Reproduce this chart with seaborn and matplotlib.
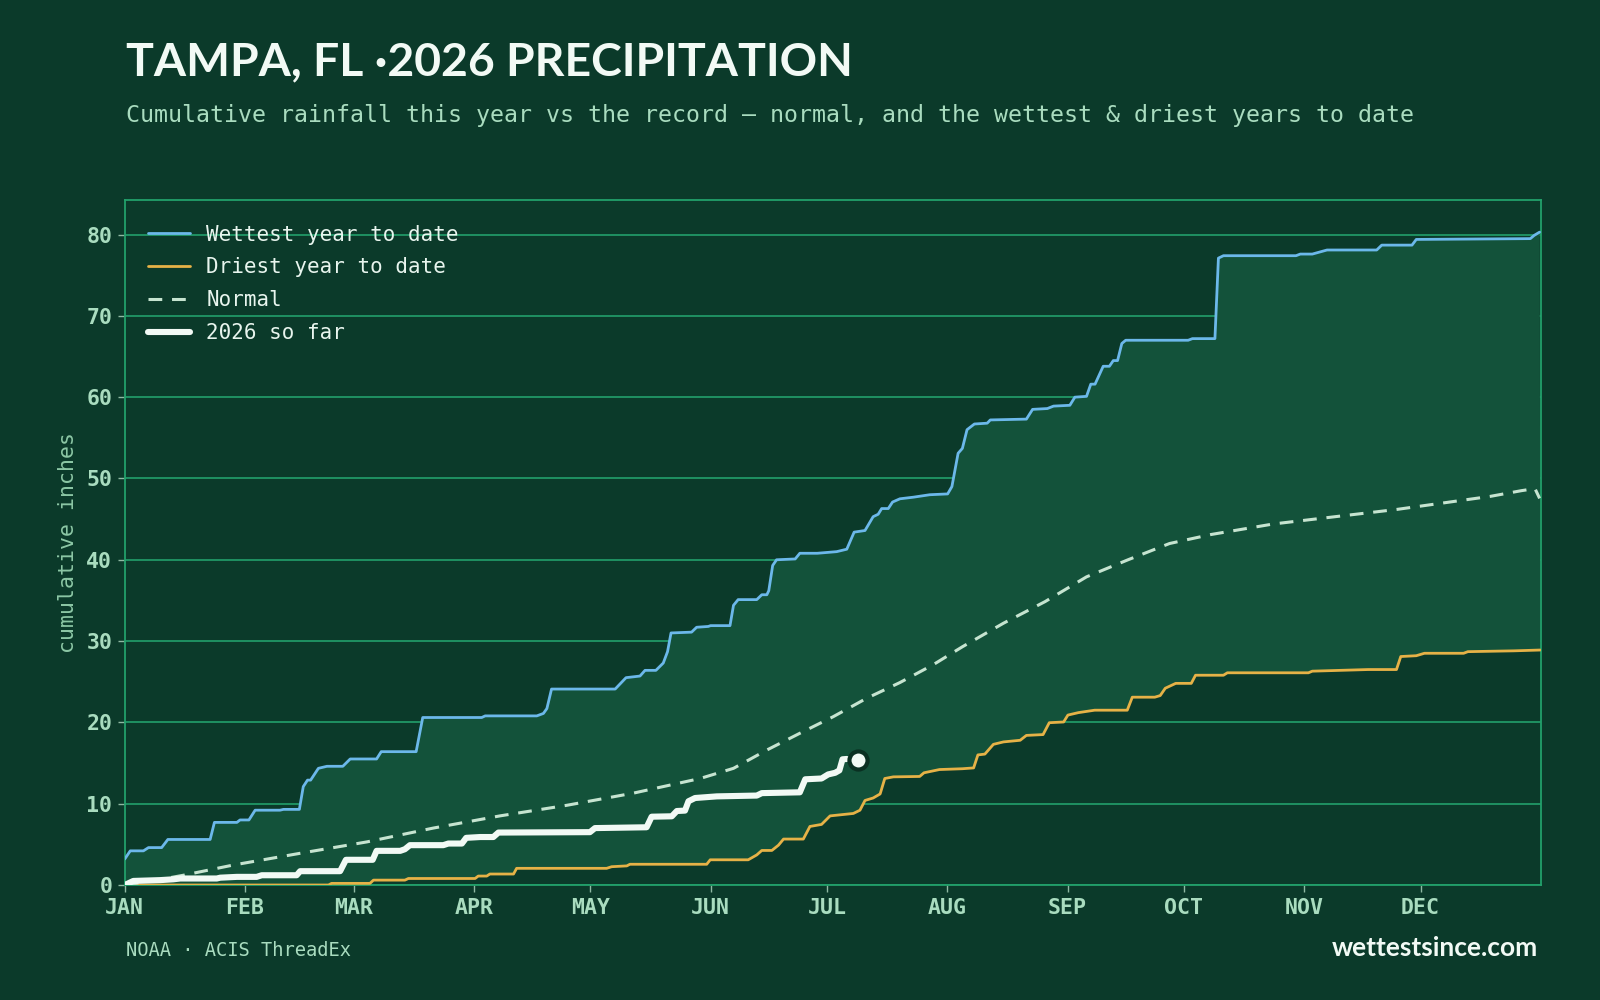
import numpy as np
import pandas as pd
import matplotlib
matplotlib.use("Agg")
import matplotlib.pyplot as plt
import seaborn as sns

# ---------------- data (day of year, cumulative inches) ----------------
month_labels = ["JAN", "FEB", "MAR", "APR", "MAY", "JUN", "JUL", "AUG", "SEP", "OCT", "NOV", "DEC"]
month_starts = [0, 31, 59, 90, 120, 151, 181, 212, 243, 273, 304, 334]
y_ticks = [0, 10, 20, 30, 40, 50, 60, 70, 80]

wet_day = [0, 1.4, 4.8, 6.1, 9.5, 11.1, 22, 23.1, 28.9, 29.7, 32, 33.6, 40, 40.9, 45, 46, 47.1, 47.9,
           49.9, 52.1, 56.2, 58.1, 64.9, 66.1, 75.1, 76.8, 92, 92.9, 106.2, 107.9, 108.8, 110, 126.4,
           129.2, 132.8, 134.1, 136.9, 138.8, 139.9, 140.8, 146.1, 147.4, 150.4, 151, 156, 156.9, 158.1,
           162.9, 164.2, 165.5, 166, 167, 168, 172.8, 174, 178.5, 183.5, 186.1, 188, 190.8, 192.9, 194.2,
           195.1, 196.8, 197.9, 199.8, 203.3, 207.5, 212.1, 213.2, 214.8, 215.9, 217.1, 219, 222.3, 223.1,
           232.4, 234, 237.8, 239.4, 243.6, 244.9, 247.9, 249, 250.1, 252.2, 253.8, 254.8, 255.9, 257, 258,
           274.1, 275.2, 281, 281.9, 283.2, 301.9, 303, 306.1, 309.9, 322.7, 324, 331.8, 332.9, 362.3,
           363.3, 364.7]
wet_in = [3.2, 4.2, 4.2, 4.6, 4.6, 5.6, 5.6, 7.7, 7.7, 8.0, 8.0, 9.2, 9.2, 9.3, 9.3, 12.1, 12.9, 12.9,
          14.35, 14.6, 14.6, 15.5, 15.5, 16.4, 16.4, 20.6, 20.6, 20.8, 20.8, 21.1, 21.7, 24.1, 24.1,
          25.5, 25.7, 26.4, 26.4, 27.3, 28.7, 31.0, 31.1, 31.7, 31.8, 31.9, 31.9, 34.4, 35.1,
          35.1, 35.7, 35.7, 36.2, 39.3, 40.0, 40.1, 40.8, 40.8, 41.0, 41.3, 43.4, 43.6, 45.3, 45.6,
          46.3, 46.3, 47.1, 47.5, 47.7, 48.0, 48.1, 49.0, 53.1, 53.7, 56.0, 56.7, 56.8, 57.2,
          57.3, 58.5, 58.6, 58.9, 59.0, 60.0, 60.1, 61.6, 61.6, 63.8, 63.8, 64.5, 64.5, 66.6, 67.0,
          67.0, 67.2, 67.2, 77.1, 77.4, 77.4, 77.6, 77.6, 78.1, 78.1, 78.7, 78.7, 79.4, 79.5,
          79.9, 80.3]

dry_day = [0, 52.5, 53.3, 63.2, 64.1, 72.2, 73.1, 90.3, 91.1, 93.3, 94.1, 100.2, 101, 124.2, 125.5,
           129.4, 130.2, 150, 150.9, 160.7, 162.9, 164.2, 166.8, 168.5, 169.8, 174.9, 176.6, 179.6,
           181.8, 187.8, 189.5, 190.8, 192.9, 194.7, 195.9, 198.1, 204.9, 206, 210, 215.9, 218.8, 219.9,
           221.7, 223.9, 226.5, 230.8, 232.4, 236.7, 238.3, 242, 243.1, 245.8, 250, 258.4, 259.7, 265.5,
           266.9, 268.2, 270.9, 274.9, 276, 283.2, 284.2, 305.1, 306.1, 320.5, 327.8, 328.9, 332.9, 335,
           345.1, 346.2, 358, 364.9]
dry_in = [0, 0, 0.2, 0.2, 0.6, 0.6, 0.8, 0.8, 1.1, 1.1, 1.35, 1.35, 2.05, 2.05, 2.25,
          2.35, 2.55, 2.55, 3.1, 3.1, 3.7, 4.25, 4.25, 4.9, 5.65, 5.65, 7.2, 7.45,
          8.5, 8.8, 9.2, 10.4, 10.7, 11.2, 13.1, 13.3, 13.35, 13.8, 14.2, 14.3, 14.4, 16.0,
          16.1, 17.3, 17.6, 17.8, 18.4, 18.5, 19.96, 20.05, 20.9, 21.2, 21.5, 21.5, 23.1, 23.1,
          23.3, 24.2, 24.8, 24.8, 25.8, 25.8, 26.1, 26.1, 26.3, 26.5, 26.5, 28.1, 28.2, 28.5,
          28.5, 28.7, 28.8, 28.9]

norm_day = [0, 8.2, 15.1, 28, 45.2, 62.4, 79.5, 96.7, 113.9, 131.1, 148.3, 156.9, 165.5, 174, 182.6,
            191.2, 199.8, 208.4, 215.9, 226.5, 237.2, 247.9, 258.6, 269.3, 279.9, 296, 312, 328, 340,
            352, 360, 363.5, 364.7]
norm_in = [0, 0.6, 1.2, 2.46, 3.9, 5.3, 7.0, 8.5, 9.8, 11.3, 13.1, 14.35, 16.6, 18.66, 20.7,
           22.96, 24.9, 27.1, 29.3, 32.2, 34.85, 37.9, 40.0, 42.0, 43.1, 44.4, 45.3, 46.2, 47.0,
           47.8, 48.5, 48.75, 47.55]

cur_day = [0, 2.2, 9.1, 12.5, 14.3, 23.7, 24.6, 28.9, 34, 35.3, 44.3, 45.2, 55.5, 57, 63.9, 64.9, 71,
           72.2, 73.5, 82.1, 83.4, 86.9, 88, 91.6, 95, 96.3, 119.9, 121.2, 134.5, 135.8, 141, 142.3,
           144.4, 145.3, 147, 152.6, 162.9, 164.2, 174, 175.4, 179.6, 181.3, 183.1, 184.2, 185, 186.1]
cur_in = [0, 0.5, 0.6, 0.7, 0.8, 0.8, 0.9, 1.0, 1.0, 1.2, 1.2, 1.7, 1.7, 3.1, 3.1, 4.2, 4.2,
          4.4, 4.9, 4.9, 5.1, 5.1, 5.8, 5.9, 5.9, 6.45, 6.5, 7.0, 7.1, 8.4, 8.45, 9.1,
          9.15, 10.3, 10.7, 10.9, 11.0, 11.3, 11.4, 13.0, 13.1, 13.6, 13.8, 14.1, 15.46, 15.5]

today_day = [188.9]
today_in = [15.4]

# ---------------- style ----------------
BG = "#0b3a2a"
FILL = "#13523a"
GRID = "#22a06b"
MINT = "#a9dcbf"
MINT2 = "#8cc7a5"
WHITE = "#f2faf5"
BLUE = "#6cb8ea"
ORANGE = "#e6b247"
NORMAL = "#c6e4d0"

sns.set_theme(style="dark")
plt.rcParams["font.family"] = ["DejaVu Sans Mono", "DejaVu Sans"]

fig = plt.figure(figsize=(16, 10), dpi=100, facecolor=BG)
ax = fig.add_axes([0.078, 0.115, 0.885, 0.685])
ax.set_facecolor(BG)

# band between wettest and driest
ax.fill(np.r_[wet_day, dry_day[::-1]], np.r_[wet_in, dry_in[::-1]], color=FILL, lw=0, zorder=1)

wet_df = pd.DataFrame({"day": wet_day, "inches": wet_in})
dry_df = pd.DataFrame({"day": dry_day, "inches": dry_in})
norm_df = pd.DataFrame({"day": norm_day, "inches": norm_in})
cur_df = pd.DataFrame({"day": cur_day, "inches": cur_in})

sns.lineplot(data=wet_df, x="day", y="inches", sort=False, estimator=None, ax=ax,
             color=BLUE, lw=2.0, label="Wettest year to date", zorder=3)
sns.lineplot(data=dry_df, x="day", y="inches", sort=False, estimator=None, ax=ax,
             color=ORANGE, lw=2.0, label="Driest year to date", zorder=3)
sns.lineplot(data=norm_df, x="day", y="inches", sort=False, estimator=None, ax=ax,
             color=NORMAL, lw=2.2, linestyle=(0, (4.5, 3.2)), label="Normal", zorder=3)
sns.lineplot(data=cur_df, x="day", y="inches", sort=False, estimator=None, ax=ax,
             color=WHITE, lw=4.4, label="2026 so far", zorder=4, solid_capstyle="round")
sns.scatterplot(x=today_day, y=today_in, ax=ax, s=170, color=WHITE, edgecolor="#0a3022",
                linewidth=3, zorder=6)

ax.set_xlim(0, 365)
ax.set_ylim(0, 84.25)
ax.set_xticks(month_starts)
ax.set_xticklabels(month_labels)
ax.set_yticks(y_ticks)
ax.set_yticklabels([str(v) for v in y_ticks])
for lab in ax.get_xticklabels() + ax.get_yticklabels():
    lab.set_fontweight("bold")
    lab.set_fontsize(15.5)
    lab.set_color(MINT)
ax.tick_params(axis="both", which="major", length=5, width=1, color="#8fb9a3", pad=4, bottom=True, left=True)

ax.grid(False)
ax.yaxis.grid(True, color=GRID, lw=1.2, zorder=0)
ax.set_axisbelow(True)
for sp in ax.spines.values():
    sp.set_color(GRID)
    sp.set_linewidth(1.3)

ax.set_xlabel("")
ax.set_ylabel("cumulative inches", fontsize=15.5, color=MINT2)
ax.yaxis.set_label_coords(-0.0328, 0.5)

leg = ax.legend(loc="upper left", bbox_to_anchor=(0.0104, 0.976), frameon=False, fontsize=15,
                handlelength=2.0, handletextpad=0.8, labelspacing=0.61, borderaxespad=0)
for t in leg.get_texts():
    t.set_color("#e8f5ee")

fig.text(0.0787, 0.925, "TAMPA, FL ·2026 PRECIPITATION", fontsize=33.4, fontweight="bold",
         family=["Lato", "DejaVu Sans"], color=WHITE, va="baseline")
fig.text(0.0787, 0.878, "Cumulative rainfall this year vs the record — normal, and the wettest & driest years to date",
         fontsize=16.75, color=MINT, va="baseline")
fig.text(0.0787, 0.044, "NOAA · ACIS ThreadEx", fontsize=13.5, color=MINT, va="baseline")
fig.text(0.9613, 0.0435, "wettestsince.com", fontsize=19, fontweight="bold",
         family=["Lato", "DejaVu Sans"], color=WHITE, va="baseline", ha="right")

fig.savefig("out.png", dpi=100, facecolor=BG)
